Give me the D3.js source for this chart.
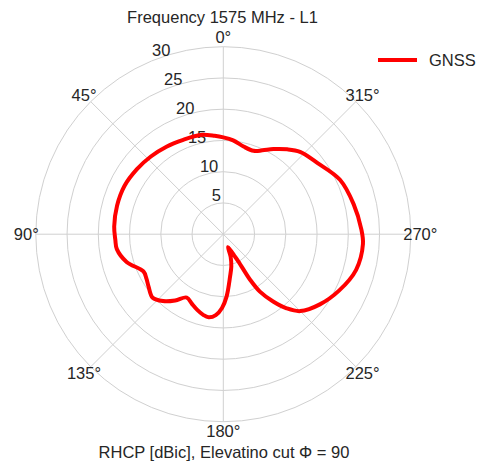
<!DOCTYPE html>
<html>
<head>
<meta charset="utf-8">
<script src="https://cdn.jsdelivr.net/npm/d3@7"></script>
<style>
  body { margin: 0; background: #fff; }
  text { font-family: "Liberation Sans", Arial, sans-serif; fill: #262626; }
</style>
</head>
<body>
<div class="chart"></div>
<script>
var svgWidth = 486;
var svgHeight = 468;

// polar centre and outer radius (r = 30)
var cx = 223.3, cy = 234.2, outerR = 187.5;

// angle in degrees (counter-clockwise from top), gain in dBic
var angles = [0, 5, 13, 23, 33, 43, 53, 64, 75, 86, 93, 98, 106, 115, 120, 125, 132, 138, 144, 150,
  155.6, 161, 166, 170, 174.7, 179, 183, 189, 194, 198, 200, 204, 207, 209, 210.5, 212.5, 216.5,
  220.5, 225, 234, 244, 255, 266, 272, 283, 295, 307, 317, 323, 329.5, 335,
  340, 347, 354];
var gain = [15.5, 15.8, 16.3, 16.4, 16.7, 17.0, 17.3, 17.6, 17.6, 17.5, 17.3, 17.2, 16.1, 14.1, 14.2, 14.6, 15.2, 14.4, 13.1, 11.7,
  12.2, 12.8, 13.3, 13.5, 13.0, 11.8, 10.0, 6.9, 5.3, 3.8, 2.2, 2.8, 3.8, 5.0, 8.5, 10.9, 13.4,
  15.6, 17.4, 19.1, 20.6, 22.0, 22.4, 22.1, 21.4, 20.6, 18.9, 18.0, 17.0, 15.8, 14.8,
  14.2, 14.4, 15.1];

var rTicks = [5, 10, 15, 20, 25, 30];
var thetaTicks = [0, 45, 90, 135, 180, 225, 270, 315];

var svg = d3.select(".chart")
    .append("svg")
    .attr("width", svgWidth)
    .attr("height", svgHeight);

var chart = svg.append("g")
    .attr("transform", "translate(" + cx + "," + cy + ")");

var rScale = d3.scaleLinear().domain([0, 30]).range([0, outerR]);

function toRad(deg) { return -deg * Math.PI / 180; }

// grid circles
chart.selectAll("circle.ring")
    .data(rTicks)
    .enter().append("circle")
    .attr("class", "ring")
    .attr("r", function(d) { return rScale(d); })
    .attr("fill", "none")
    .attr("stroke", "#d0d0d0")
    .attr("stroke-width", 1);

// spokes
chart.selectAll("line.spoke")
    .data(thetaTicks)
    .enter().append("line")
    .attr("class", "spoke")
    .attr("x1", 0).attr("y1", 0)
    .attr("x2", function(d) { return -outerR * Math.sin(d * Math.PI / 180); })
    .attr("y2", function(d) { return -outerR * Math.cos(d * Math.PI / 180); })
    .attr("stroke", "#d0d0d0")
    .attr("stroke-width", 1);

// theta labels
chart.selectAll("text.theta")
    .data(thetaTicks)
    .enter().append("text")
    .attr("class", "theta")
    .attr("x", function(d) { return -197 * Math.sin(d * Math.PI / 180); })
    .attr("y", function(d) { return -197 * Math.cos(d * Math.PI / 180); })
    .attr("text-anchor", "middle")
    .attr("dominant-baseline", "central")
    .style("font-size", "16.5px")
    .text(function(d) { return d + "°"; });

// radial labels along 22.5°
var rlab = 22.5 * Math.PI / 180;
chart.selectAll("text.rlabel")
    .data(rTicks)
    .enter().append("text")
    .attr("class", "rlabel")
    .attr("x", function(d) { return -rScale(d) * Math.sin(rlab) + 0.5; })
    .attr("y", function(d) { return -rScale(d) * Math.cos(rlab) - 4.5; })
    .style("font-size", "16.5px")
    .text(function(d) { return d; });

// pattern curve
var line = d3.lineRadial()
    .angle(function(d, i) { return toRad(angles[i]); })
    .radius(function(d) { return rScale(d); })
    .curve(d3.curveCatmullRomClosed.alpha(0.5));

chart.append("path")
    .datum(gain)
    .attr("d", line)
    .attr("fill", "none")
    .attr("stroke", "#ff0000")
    .attr("stroke-width", 4)
    .attr("stroke-linejoin", "round");

// title and bottom label
svg.append("text")
    .attr("x", 222.5)
    .attr("y", 22.5)
    .attr("text-anchor", "middle")
    .style("font-size", "16.5px")
    .text("Frequency 1575 MHz - L1");

svg.append("text")
    .attr("x", 224)
    .attr("y", 457.5)
    .attr("text-anchor", "middle")
    .style("font-size", "16.5px")
    .text("RHCP [dBic], Elevatino cut Φ = 90");

// legend
var legend = svg.append("g");
legend.append("line")
    .attr("x1", 378).attr("x2", 417)
    .attr("y1", 60).attr("y2", 60)
    .attr("stroke", "#ff0000")
    .attr("stroke-width", 4);
legend.append("text")
    .attr("x", 429)
    .attr("y", 60)
    .attr("dominant-baseline", "central")
    .style("font-size", "16.5px")
    .text("GNSS");
</script>
</body>
</html>
